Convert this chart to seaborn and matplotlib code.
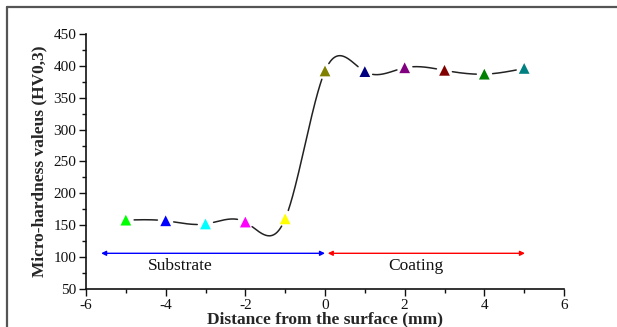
import numpy as np
import pandas as pd
import seaborn as sns
import matplotlib.pyplot as plt
from matplotlib.lines import Line2D
from matplotlib.ticker import MultipleLocator

# data
distance = [-5, -4, -3, -2, -1, 0, 1, 2, 3, 4, 5]
hardness = [158, 157, 152, 155, 160, 392, 391, 397, 393, 387, 396]
point_colors = ['#00ff00', '#0000ff', '#00ffff', '#ff00ff', '#ffff00',
                '#808000', '#000080', '#800080', '#800000', '#008000', '#008080']
substrate_span = [-5.62, 0.0]
coating_span = [0.07, 5.02]
arrow_level = 106


def natural_spline(x, y, xs):
    # plain natural cubic spline, like the spline connection of the original
    x = np.asarray(x, float)
    y = np.asarray(y, float)
    n = len(x)
    h = np.diff(x)
    A = np.zeros((n, n))
    b = np.zeros(n)
    A[0, 0] = 1
    A[-1, -1] = 1
    for i in range(1, n - 1):
        A[i, i - 1] = h[i - 1]
        A[i, i] = 2 * (h[i - 1] + h[i])
        A[i, i + 1] = h[i]
        b[i] = 3 * ((y[i + 1] - y[i]) / h[i] - (y[i] - y[i - 1]) / h[i - 1])
    c = np.linalg.solve(A, b)
    out = np.empty_like(xs)
    for k, xv in enumerate(xs):
        i = min(max(np.searchsorted(x, xv) - 1, 0), n - 2)
        dx = xv - x[i]
        bi = (y[i + 1] - y[i]) / h[i] - h[i] * (2 * c[i] + c[i + 1]) / 3
        di = (c[i + 1] - c[i]) / (3 * h[i])
        out[k] = y[i] + bi * dx + c[i] * dx ** 2 + di * dx ** 3
    return out


sns.set_style('ticks')
plt.rcParams['font.family'] = ['Liberation Serif', 'DejaVu Serif']
plt.rcParams['axes.unicode_minus'] = False

fig = plt.figure(figsize=(6.17, 3.27), dpi=100)
ax = fig.add_axes([86 / 617, 1 - 289 / 327, (564 - 86) / 617, (289 - 34) / 327])

ax.set_xlim(-6, 6)
ax.set_ylim(50, 450)

# spline curve, broken around the markers
xs = np.linspace(distance[0], distance[-1], 1200)
ys = natural_spline(distance, hardness, xs)
curve_px = ax.transData.transform(np.column_stack([xs, ys]))
pts_px = ax.transData.transform(np.column_stack([distance, hardness]))
near = np.zeros(len(xs), bool)
for p in pts_px:
    near |= np.hypot(curve_px[:, 0] - p[0], curve_px[:, 1] - p[1]) < 8
ys_gap = ys.copy()
ys_gap[near] = np.nan
ax.plot(xs, ys_gap, color='#222222', lw=1.1)

df = pd.DataFrame({'d': distance, 'hv': hardness, 'pt': [str(v) for v in distance]})
sns.scatterplot(data=df, x='d', y='hv', hue='pt', palette=point_colors, marker='^',
                s=60, edgecolor='none', legend=False, ax=ax, zorder=3)

# region arrows
ax.annotate('', xy=(substrate_span[0], arrow_level), xytext=(substrate_span[1], arrow_level),
            arrowprops=dict(arrowstyle='<|-|>', color='#0000ff', lw=1, mutation_scale=7,
                            shrinkA=0, shrinkB=0))
ax.annotate('', xy=(coating_span[0], arrow_level), xytext=(coating_span[1], arrow_level),
            arrowprops=dict(arrowstyle='<|-|>', color='#ff0000', lw=1, mutation_scale=7,
                            shrinkA=0, shrinkB=0))
ax.text(-3.64, 86, 'Substrate', ha='center', va='center', fontsize=12.5, color='#111111')
ax.text(2.28, 86, 'Coating', ha='center', va='center', fontsize=12.5, color='#111111')

ax.xaxis.set_major_locator(MultipleLocator(2))
ax.xaxis.set_minor_locator(MultipleLocator(1))
ax.yaxis.set_major_locator(MultipleLocator(50))
ax.yaxis.set_minor_locator(MultipleLocator(25))
ax.tick_params(which='major', direction='out', length=5, width=1, labelsize=11, pad=2,
               colors='#111111')
ax.tick_params(which='minor', direction='out', length=3, width=1, colors='#111111')
for s in ['left', 'bottom']:
    ax.spines[s].set_linewidth(1.2)
    ax.spines[s].set_color('#111111')
sns.despine(ax=ax)

ax.set_xlabel('Distance from the surface (mm)', fontsize=12.5, fontweight='bold', labelpad=0)
ax.set_ylabel('Micro-hardness valeus (HV0,3)', fontsize=12.5, fontweight='bold', labelpad=4)

# partial outer frame
fig.add_artist(Line2D([7 / 617, 7 / 617], [0, 1 - 7 / 327], transform=fig.transFigure,
                      color='#555555', lw=1.6))
fig.add_artist(Line2D([7 / 617, 1], [1 - 7 / 327, 1 - 7 / 327], transform=fig.transFigure,
                      color='#555555', lw=1.6))

fig.savefig('out.png', dpi=100)
